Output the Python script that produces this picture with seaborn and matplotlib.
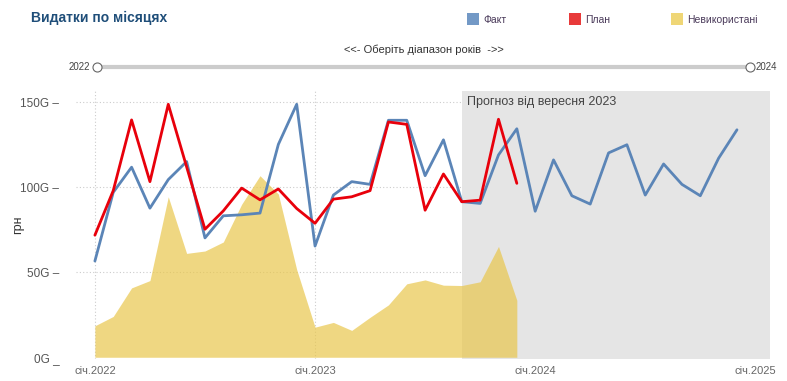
import pandas as pd
import matplotlib.pyplot as plt
import seaborn as sns
from matplotlib.patches import Rectangle

# Дані (млрд грн, помісячно з січня 2022)
months = pd.date_range("2022-01-01", "2024-12-01", freq="MS")
fakt = [56.6, 97, 111.8, 87.7, 104.5, 115.1, 70.2, 83.2, 83.8, 84.8, 125.2, 148.8,
        65.4, 95.4, 103.3, 101.7, 139.4, 139.4, 106.8, 127.9, 91.5, 90.5, 119, 134.4,
        85.9, 116.1, 95, 90.1, 120.2, 125, 95.4, 113.7, 101.7, 95, 117.1, 133.8]
plan = [71.8, 98, 139.6, 103.3, 148.8, 112, 75.3, 86.1, 99.5, 92.6, 99, 87.5,
        78.8, 93, 94.4, 98, 138.4, 137, 86.5, 107.8, 91.5, 92.4, 140, 102.3]
nevykor = [18.5, 24, 40.8, 45.1, 94.4, 61.1, 62.5, 67.8, 90, 106.8, 96, 51.6,
           17.7, 20.5, 15.8, 23.5, 30.8, 43.2, 45.5, 42.4, 42.2, 44.4, 65.2, 33.5]
y_ticks = [0, 50, 100, 150]
y_labels = ["0G _", "50G –", "100G –", "150G –"]
x_labels = ["січ.2022", "січ.2023", "січ.2024", "січ.2025"]

BLUE = "#5b85b7"
RED = "#e8000b"
YELLOW = "#e9c64a"

df_f = pd.DataFrame({"m": range(len(fakt)), "v": fakt})
df_p = pd.DataFrame({"m": range(len(plan)), "v": plan})
df_n = pd.DataFrame({"m": range(len(nevykor)), "v": nevykor})

sns.set_style("white")
plt.rcParams["font.family"] = ["Liberation Sans", "DejaVu Sans"]

fig = plt.figure(figsize=(7.87, 3.81), dpi=100)
ax = fig.add_axes([76 / 787, (381 - 359.3) / 381, (770 - 76) / 787, (359.3 - 91.2) / 381])
ax.set_xlim(-1.03, 36.8)
ax.set_ylim(-1.2, 156.5)

# 🔲 Сітка
for m in [0, 12]:
    ax.axvline(m, color="#cccccc", lw=0.8, ls=(0, (1, 2)), zorder=0)
for v in y_ticks[1:]:
    ax.axhline(v, color="#cccccc", lw=0.8, ls=(0, (1, 2)), zorder=0)

# 🔲 Прогнозна зона
ax.add_patch(Rectangle((20, -1.2), 17, 160, color="#e5e5e5", lw=0, zorder=1))
ax.text(20.3, 153.5, "Прогноз від вересня 2023", fontsize=9, color="#444444",
        va="top", ha="left", zorder=5)

# 📈 Серії
ax.fill_between(df_n["m"], 0, df_n["v"], color=YELLOW, alpha=0.69, lw=0, zorder=2)
sns.lineplot(data=df_p, x="m", y="v", color=RED, lw=2, ax=ax, zorder=4)
sns.lineplot(data=df_f, x="m", y="v", color=BLUE, lw=2, ax=ax, zorder=3)

for s in ax.spines.values():
    s.set_visible(False)

ax.set_yticks(y_ticks)
ax.set_yticklabels(y_labels)
ax.tick_params(axis="y", length=0, pad=12, labelsize=8.5, labelcolor="#555555")

ax.set_xticks([0, 12, 24, 36])
ax.set_xticklabels(x_labels)
ax.set_xticks(range(-1, 37), minor=True)
ax.tick_params(axis="x", which="major", length=3, width=0.8, color="#888888",
               pad=2, labelsize=8, labelcolor="#666666")
ax.tick_params(axis="x", which="minor", length=1.5, width=0.8, color="#aaaaaa")
ax.set_xlabel("")
ax.set_ylabel("грн", fontsize=9, color="#333333")
ax.yaxis.set_label_coords(-0.075, 0.5)

# 🏷️ Заголовок і легенда
fig.text(31 / 787, 1 - 18 / 381, "Видатки по місяцях", fontsize=10, fontweight="bold",
         color="#1f4e79", va="center", ha="left")
legend = [("Факт", "#7399c6", 467), ("План", "#e83a3a", 569), ("Невикористані", "#efd676", 671)]
for lab, col, xp in legend:
    fig.patches.append(Rectangle((xp / 787, 1 - 25 / 381), 12 / 787, 12 / 381,
                                 transform=fig.transFigure, color=col, lw=0))
    fig.text((xp + 16) / 787, 1 - 20 / 381, lab, fontsize=7.5, color="#4a3a5a",
             va="center", ha="left")

# 🎚️ Слайдер діапазону років
fig.text(424 / 787, 1 - 50 / 381, "<<- Оберіть діапазон років  ->>", fontsize=8,
         color="#333333", va="center", ha="center")
fig.add_artist(plt.Line2D([98 / 787, 748 / 787], [1 - 67 / 381, 1 - 67 / 381],
                          transform=fig.transFigure, color="#cccccc", lw=3))
for xp in [97, 750]:
    fig.add_artist(plt.Line2D([xp / 787], [1 - 67 / 381], transform=fig.transFigure,
                              marker="o", ms=6.5, mfc="white", mec="#666666", mew=0.8))
fig.text(90 / 787, 1 - 67 / 381, "2022", fontsize=7, color="#444444", va="center", ha="right")
fig.text(756 / 787, 1 - 67 / 381, "2024", fontsize=7, color="#444444", va="center", ha="left")

plt.savefig("out.png", dpi=100)
